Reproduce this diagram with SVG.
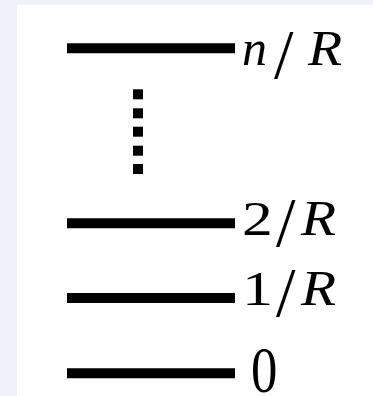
<svg xmlns="http://www.w3.org/2000/svg" width="373" height="396" viewBox="0 0 373 396">
<style>
.lvl{stroke:#000;stroke-width:10;stroke-linecap:butt}
text{font-family:'Liberation Serif','Times New Roman',serif;font-size:48px;fill:#000}
.i{font-style:italic;font-size:50px}
.s{font-size:70px}
.dot{fill:#000}
</style>
<rect x="0" y="0" width="373" height="396" fill="#f1f1fb"/>
<rect x="17" y="5" width="356" height="391" fill="#ffffff"/>
<g id="level-n">
<line class="lvl" x1="67" y1="48.3" x2="235" y2="48.3"/>
<text class="i" x="242" y="64.5">n</text>
<text class="s" x="274" y="78">/</text>
<text class="i" transform="translate(308,64.5) scale(1.12,1)">R</text>
</g>
<g id="dots">
<rect class="dot" x="133" y="89.3" width="10" height="10"/>
<rect class="dot" x="133" y="108.3" width="10" height="10"/>
<rect class="dot" x="133" y="126.7" width="10" height="10"/>
<rect class="dot" x="133" y="145.7" width="10" height="10"/>
<rect class="dot" x="133" y="164" width="10" height="10"/>
</g>
<g id="level-2">
<line class="lvl" x1="67" y1="223.3" x2="235" y2="223.3"/>
<text transform="translate(242,235) scale(1.28,1)">2</text>
<text class="s" x="276" y="246">/</text>
<text class="i" transform="translate(301,235) scale(1.15,1)">R</text>
</g>
<g id="level-1">
<line class="lvl" x1="67" y1="298" x2="235" y2="298"/>
<text transform="translate(242,305) scale(1.3,1)">1</text>
<text class="s" x="276" y="316">/</text>
<text class="i" transform="translate(301,305) scale(1.15,1)">R</text>
</g>
<g id="level-0">
<line class="lvl" x1="67" y1="373.3" x2="235" y2="373.3"/>
<text style="font-size:66px" transform="translate(251,392) scale(0.8,1)">0</text>
</g>
</svg>
